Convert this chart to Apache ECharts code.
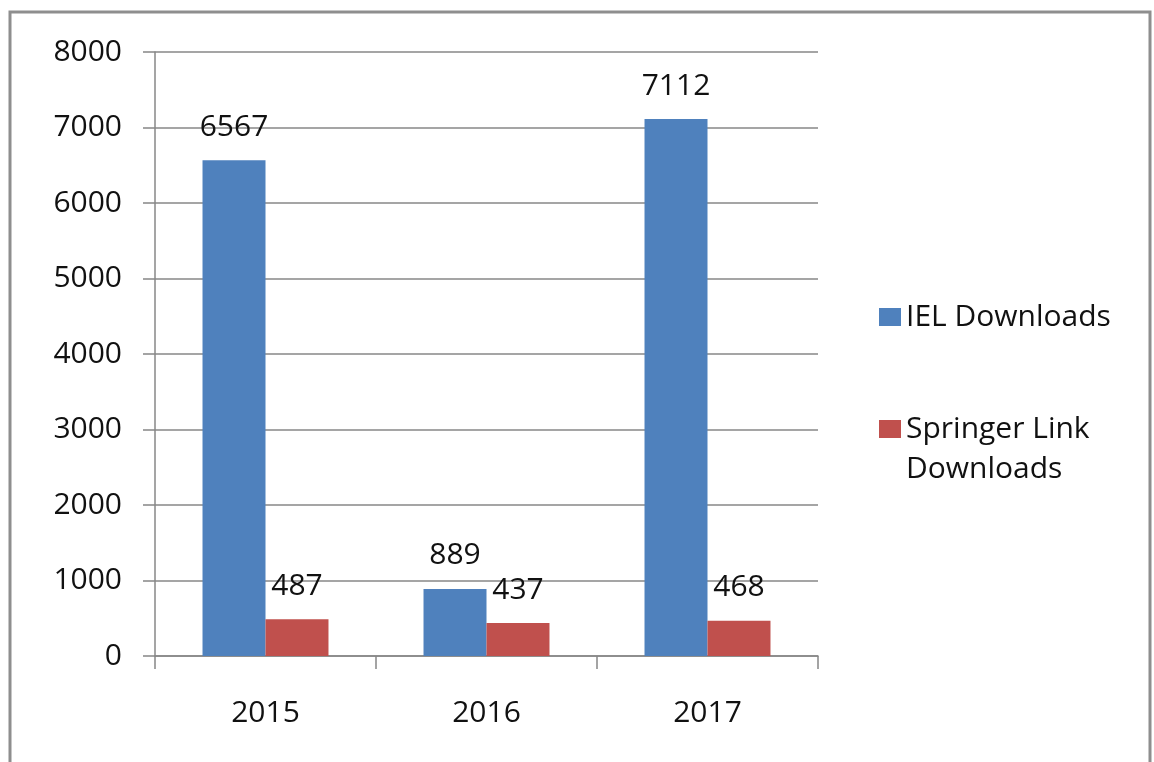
<!DOCTYPE html>
<html>
<head>
<meta charset="utf-8">
<script src="https://cdn.jsdelivr.net/npm/echarts@6/dist/echarts.min.js"></script>
<style>
  html, body { margin: 0; padding: 0; background: #fff; }
  #chart { width: 1154px; height: 762px; }
</style>
</head>
<body>
<div id="chart"></div>
<script>
// chart data
const years = ['2015', '2016', '2017']
const ielDownloads = [6567, 889, 7112]
const springerDownloads = [487, 437, 468]
const seriesNames = ['IEL Downloads', 'Springer Link\nDownloads']

const FONT = 'Open Sans'
const FONT_SIZE = 30
const TEXT_COLOR = '#111'
const AXIS_GREY = '#878787'

const chart = echarts.init(document.getElementById('chart'))

const valueLabel = {
  show: true,
  position: 'top',
  distance: 18,
  fontFamily: FONT,
  fontSize: FONT_SIZE,
  color: TEXT_COLOR
}

const option = {
  backgroundColor: '#fff',
  animation: false,
  grid: {
    left: 155,
    right: 336,
    top: 52,
    bottom: 106
  },
  // outer frame of the chart area
  graphic: [{
    type: 'rect',
    shape: { x: 10, y: 12, width: 1140, height: 800 },
    style: { fill: 'none', stroke: '#8e8e8e', lineWidth: 3 },
    silent: true
  }],
  legend: {
    orient: 'vertical',
    left: 874,
    top: 292,
    itemWidth: 22,
    itemHeight: 18,
    itemGap: 32,
    textGap: 10,
    icon: 'rect',
    // a blank first line keeps the marker level with "Springer Link"
    formatter: name => name.indexOf('\n') >= 0 ? ' \n' + name : name,
    textStyle: {
      fontFamily: FONT,
      fontSize: FONT_SIZE,
      color: TEXT_COLOR,
      lineHeight: 40
    },
    data: seriesNames
  },
  xAxis: {
    type: 'category',
    data: years,
    axisLine: { lineStyle: { color: AXIS_GREY, width: 1.5 } },
    axisTick: { show: true, length: 13, lineStyle: { color: AXIS_GREY, width: 1.5 } },
    axisLabel: {
      margin: 42,
      fontFamily: FONT,
      fontSize: FONT_SIZE,
      color: TEXT_COLOR
    },
    splitLine: { show: false }
  },
  yAxis: {
    type: 'value',
    min: 0,
    max: 8000,
    interval: 1000,
    axisLine: { show: true, lineStyle: { color: AXIS_GREY, width: 1.5 } },
    axisTick: { show: true, length: 12, lineStyle: { color: AXIS_GREY, width: 1.5 } },
    axisLabel: {
      margin: 33,
      fontFamily: FONT,
      fontSize: FONT_SIZE,
      color: TEXT_COLOR,
      formatter: v => String(v)
    },
    splitLine: { show: true, lineStyle: { color: AXIS_GREY, width: 1.5 } }
  },
  series: [
    {
      name: seriesNames[0],
      type: 'bar',
      data: ielDownloads,
      barWidth: '28.5%',
      barGap: '0%',
      itemStyle: { color: '#4f81bd' },
      label: valueLabel
    },
    {
      name: seriesNames[1],
      type: 'bar',
      data: springerDownloads,
      barWidth: '28.5%',
      barGap: '0%',
      itemStyle: { color: '#c0504d' },
      label: valueLabel
    }
  ]
}

chart.setOption(option)
</script>
</body>
</html>
